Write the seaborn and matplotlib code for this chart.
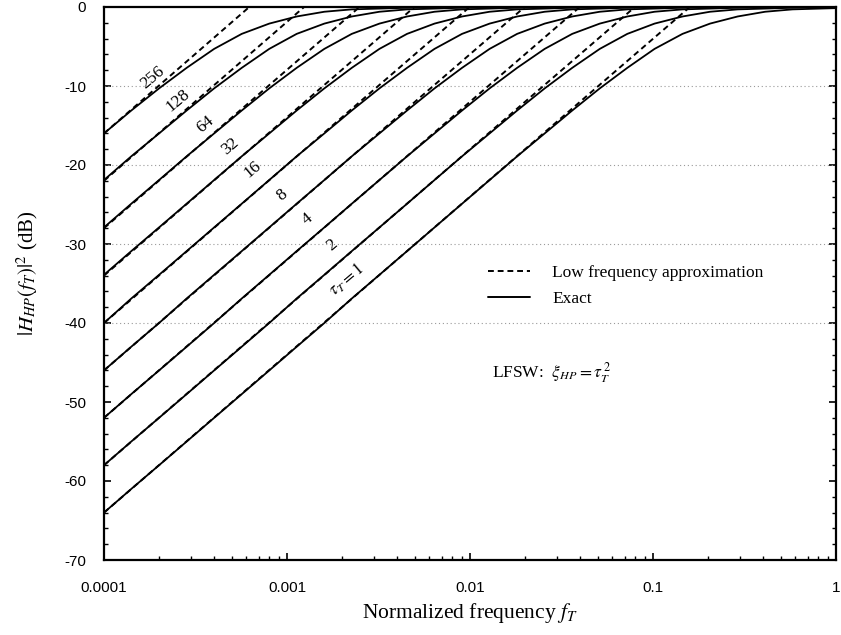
import numpy as np
import pandas as pd
import matplotlib
matplotlib.use("Agg")
import matplotlib.pyplot as plt
import matplotlib.ticker as mticker
from matplotlib.lines import Line2D
import seaborn as sns

# --- data (dB values on a sqrt(2) frequency grid) ---
freq = [1.00e-4, 1.41e-4, 2.00e-4, 2.83e-4, 4.00e-4, 5.66e-4, 8.00e-4,
        1.13e-3, 1.60e-3, 2.26e-3, 3.20e-3, 4.53e-3, 6.40e-3, 9.05e-3,
        1.28e-2, 1.81e-2, 2.56e-2, 3.62e-2, 5.12e-2, 7.24e-2, 1.02e-1,
        1.45e-1, 2.05e-1, 2.90e-1, 4.10e-1, 5.79e-1, 8.19e-1, 1.16]

db_tau1 = [-64.0, -61.0, -58.0, -55.0, -52.0, -49.0, -46.0, -43.0, -40.0, -36.9,
           -33.9, -30.9, -27.9, -24.9, -21.9, -18.9, -16.0, -13.1, -10.3, -7.7,
           -5.3, -3.4, -2.1, -1.2, -0.6, -0.3, -0.2, -0.1]
db_tau2 = [-58.0, -55.0, -52.0, -49.0, -46.0, -43.0, -40.0, -36.9, -33.9, -30.9,
           -27.9, -24.9, -21.9, -18.9, -16.0, -13.1, -10.3, -7.7, -5.3, -3.4,
           -2.1, -1.2, -0.6, -0.3, -0.2, -0.1, 0.0, 0.0]
db_tau4 = [-52.0, -49.0, -46.0, -43.0, -40.0, -36.9, -33.9, -30.9, -27.9, -24.9,
           -21.9, -18.9, -16.0, -13.1, -10.3, -7.7, -5.3, -3.4, -2.1, -1.2,
           -0.6, -0.3, -0.2, -0.1, 0.0, 0.0, 0.0, 0.0]
db_tau8 = [-46.0, -43.0, -40.0, -36.9, -33.9, -30.9, -27.9, -24.9, -21.9, -18.9,
           -16.0, -13.1, -10.3, -7.7, -5.3, -3.4, -2.1, -1.2, -0.6, -0.3,
           -0.2, -0.1, 0.0, 0.0, 0.0, 0.0, 0.0, 0.0]
db_tau16 = [-40.0, -36.9, -33.9, -30.9, -27.9, -24.9, -21.9, -18.9, -16.0, -13.1,
            -10.3, -7.7, -5.3, -3.4, -2.1, -1.2, -0.6, -0.3, -0.2, -0.1,
            0.0, 0.0, 0.0, 0.0, 0.0, 0.0, 0.0, 0.0]
db_tau32 = [-33.9, -30.9, -27.9, -24.9, -21.9, -18.9, -16.0, -13.1, -10.3, -7.7,
            -5.3, -3.4, -2.1, -1.2, -0.6, -0.3, -0.2, -0.1, 0.0, 0.0,
            0.0, 0.0, 0.0, 0.0, 0.0, 0.0, 0.0, 0.0]
db_tau64 = [-27.9, -24.9, -21.9, -18.9, -16.0, -13.1, -10.3, -7.7, -5.3, -3.4,
            -2.1, -1.2, -0.6, -0.3, -0.2, -0.1, 0.0, 0.0, 0.0, 0.0,
            0.0, 0.0, 0.0, 0.0, 0.0, 0.0, 0.0, 0.0]
db_tau128 = [-21.9, -18.9, -16.0, -13.1, -10.3, -7.7, -5.3, -3.4, -2.1, -1.2,
             -0.6, -0.3, -0.2, -0.1, 0.0, 0.0, 0.0, 0.0, 0.0, 0.0,
             0.0, 0.0, 0.0, 0.0, 0.0, 0.0, 0.0, 0.0]
db_tau256 = [-16.0, -13.1, -10.3, -7.7, -5.3, -3.4, -2.1, -1.2, -0.6, -0.3,
             -0.2, -0.1, 0.0, 0.0, 0.0, 0.0, 0.0, 0.0, 0.0, 0.0,
             0.0, 0.0, 0.0, 0.0, 0.0, 0.0, 0.0, 0.0]

exact_curves = [db_tau1, db_tau2, db_tau4, db_tau8, db_tau16,
                db_tau32, db_tau64, db_tau128, db_tau256]

# low frequency approximation: straight lines from f=1e-4 up to 0 dB
approx_start_db = [-64, -58, -52, -46, -40, -34, -28, -22, -16]
approx_corner_f = [0.159, 0.0796, 0.0398, 0.0199, 0.00995,
                   0.00497, 0.00249, 0.00124, 0.000622]

# curve labels and where they sit
curve_labels = [r"$\tau_T = 1$", "2", "4", "8", "16", "32", "64", "128", "256"]
label_f = [2.13e-3, 1.76e-3, 1.29e-3, 9.4e-4, 6.5e-4, 4.89e-4, 3.56e-4, 2.54e-4, 1.85e-4]
label_db = [-34.6, -30.1, -26.8, -23.8, -20.6, -17.7, -14.9, -11.8, -8.9]

x_ticks = [0.0001, 0.001, 0.01, 0.1, 1]

# --- style ---
sns.set_style("ticks")
plt.rcParams['font.family'] = ['Liberation Serif', 'DejaVu Serif']
plt.rcParams['mathtext.fontset'] = 'stix'
plt.rcParams['axes.unicode_minus'] = False

fig = plt.figure(figsize=(8.41, 6.35), dpi=100)
ax = fig.add_axes([104 / 841, 1 - 560 / 635, 732 / 841, 553 / 635])

dash = (0, (3, 2))
for start, fc in zip(approx_start_db, approx_corner_f):
    sns.lineplot(x=[1e-4, fc], y=[start, 0], color="black", lw=1.4,
                 linestyle=dash, ax=ax, zorder=2)

for db in exact_curves:
    sns.lineplot(x=freq, y=db, color="black", lw=1.3, ax=ax, zorder=3,
                 solid_joinstyle="round")

# faint dotted grid lines
for g in [-10, -20, -30, -40]:
    ax.axhline(g, color="#9a9a9a", lw=0.8, linestyle=(0, (1, 2.5)), zorder=1)

ax.set_xscale("log")
ax.set_xlim(1e-4, 1)
ax.set_ylim(-70, 0)

ax.set_xticks(x_ticks)
ax.xaxis.set_major_formatter(mticker.FuncFormatter(lambda v, p: f"{v:g}"))
ax.xaxis.set_minor_locator(mticker.LogLocator(base=10, subs=np.arange(2, 10)))
ax.xaxis.set_minor_formatter(mticker.NullFormatter())
ax.yaxis.set_major_locator(mticker.MultipleLocator(10))
ax.yaxis.set_minor_locator(mticker.MultipleLocator(2))

ax.tick_params(which="both", direction="in", right=True, top=False, color="black")
ax.tick_params(which="major", length=5, width=1.2)
ax.tick_params(which="minor", length=3, width=1.0)
ax.tick_params(axis="y", pad=13)
ax.tick_params(axis="x", pad=15)
for lab in ax.get_xticklabels() + ax.get_yticklabels():
    lab.set_fontfamily("Liberation Sans")
    lab.set_fontsize(11)
    lab.set_color("black")

for sp in ax.spines.values():
    sp.set_linewidth(1.6)
    sp.set_color("black")

# curve labels along the lines
for txt, lf, ld in zip(curve_labels, label_f, label_db):
    ax.text(lf, ld, txt, rotation=40, rotation_mode="anchor", ha="center",
            va="center", fontsize=12.5, color="black", zorder=4)

ax.set_xlabel(r"Normalized frequency $f_T$", fontsize=15.5, color="black")
ax.xaxis.set_label_coords(0.5, -0.074)
ax.set_ylabel(r"$|H_{HP}(f_T)|^2$ (dB)", fontsize=15, color="black")
ax.yaxis.set_label_coords(-0.088, 0.519)

handles = [Line2D([], [], color="black", lw=1.4, linestyle=dash),
           Line2D([], [], color="black", lw=1.4)]
ax.legend(handles, ["Low frequency approximation", "Exact"], loc="upper left",
          bbox_to_anchor=(0.5246, 0.534), frameon=False, fontsize=12.5,
          handlelength=2.4, handletextpad=1.3, labelspacing=0.6,
          borderpad=0, borderaxespad=0, labelcolor="black")

ax.text(0.530, 0.338, r"LFSW:  $\xi_{HP} = \tau_T^{\,2}$", transform=ax.transAxes,
        fontsize=12.5, va="center", ha="left", color="black")

fig.savefig("out.png", dpi=100)
